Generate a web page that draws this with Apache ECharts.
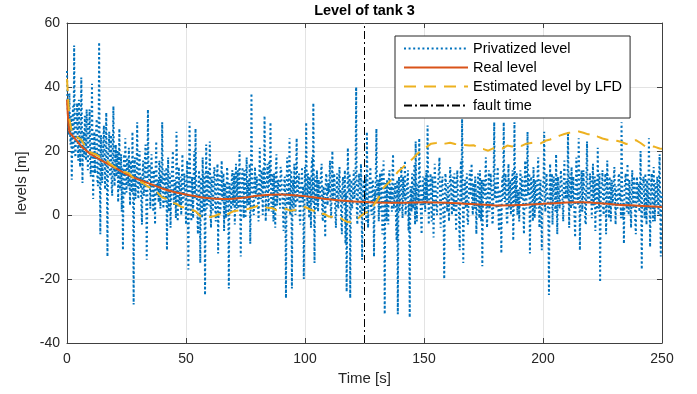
<!DOCTYPE html>
<html>
<head>
<meta charset="utf-8">
<script src="https://cdn.jsdelivr.net/npm/echarts@6.0.0/dist/echarts.min.js"></script>
<style>
  html, body { margin: 0; padding: 0; background: #fff; }
  #main { width: 697px; height: 394px; }
</style>
</head>
<body>
<div id="main"></div>
<script>
// privatized level, one sample every 0.25 s from t = 0 to 250 (one row = 5 s)
const privStep = 0.25;
const privatizedLevel = [
  45, 34, 30, 25, 38, 27, 22, 31, 11, 24, 34, 19, 53, 28, 18, 23, 29, 35, 24, 17,
  36, 27, 15, 22, 43, 30, 10, 25, 26, 18, 31, 21, 17, 33, 28, 14, 21, 27, 33, 16,
  12, 24, 41, 19, 5, 21, 26, 13, 19, 27, 30, 11, 9, 20, 54, 16, -6, 25, 22, 10,
  14, 23, 28, 17, 8, 21, 32, 12, -13, 19, 20, 26, 12, 15, 25, 9, 6, 22, 34, 14,
  9, 17, 22, 12, 15, 20, 4, 14, 27, 8, 13, 19, 1, 15, -11, 10, 19, 6, 24, 13,
  7, 18, 16, 9, 21, 12, 3, 17, 14, 7, 26, 11, -28, 16, 18, 5, 10, 14, 29, 8,
  5, 15, 20, 9, 12, 3, -3, 13, 17, 6, 8, 18, 22, 10, -14, 4, 33, 12, 11, 16,
  2, 8, 19, 13, 7, 1, 14, 9, -3, 15, 23, 6, 9, 11, 4, 17, 16, 2, 12, 10,
  29, 8, 2, 12, 14, 4, 6, 15, -11, 9, 18, 1, 9, 13, -4, 7, 12, 16, 20, 5,
  3, 11, 10, -1, 26, 14, -2, 8, 15, 3, 7, 12, 0, 9, 19, 4, 5, 13, 11, 6,
  -3, 10, 17, 2, -17, 8, 29, 13, 4, -2, 12, 7, -1, 15, 20, 5, 27, 11, 6, 1,
  -6, 9, 14, 4, -15, 12, 9, -1, 18, 7, 1, 13, -25, 6, 22, 2, 8, 14, 3, 9,
  23, 5, -4, 12, 11, 1, 6, 14, 15, 3, -2, 9, 9, 16, -12, 6, 13, 0, 2, 11,
  17, 4, 7, 13, -5, 8, 10, -1, 4, 15, 12, 2, -23, 10, 8, 5, 1, 12, 14, 3,
  6, 13, -3, 8, 16, 2, 9, 14, 2, 10, 20, 4, -13, 7, 11, 15, 5, -1, 14, 9,
  -1, 12, 18, 3, 8, 11, 3, 16, -9, 6, 38, 13, 10, 1, 0, 9, 15, 5, 7, 12,
  12, 4, -2, 10, 21, 6, 5, 14, 9, 0, 15, 8, 31, 12, -2, 7, 11, 16, 4, 1,
  17, 10, 29, 5, 1, 13, 8, -2, 13, 9, -4, 14, 19, 3, 7, 11, 10, 6, 2, 15,
  14, 8, 6, 1, -5, 11, 12, 5, -26, 9, 18, 13, 3, 7, 24, 0, 9, 14, -23, 6,
  11, 2, 16, 10, 0, 13, 24, 4, 7, 11, 13, -1, -3, 8, 10, 15, 4, 9, -20, 3,
  15, 6, 29, 10, 2, 13, 9, -1, 12, 7, -4, 15, 18, 4, 35, 9, -15, 12, 8, 2,
  14, 8, 1, 11, 11, 5, 5, 14, 16, 0, -2, 9, 9, 3, -7, 12, 13, 6, 3, 10,
  7, 12, 17, 3, -1, 9, 20, 5, 6, 13, 10, 0, -4, 8, 13, 4, 2, 11, 15, 6,
  8, -2, -6, 10, 12, 3, 4, 14, -9, 7, -24, 1, 21, 9, 7, 13, -26, 5, 11, 2,
  3, 9, 14, 5, 8, 12, 40, 2, -3, 7, 10, 13, 5, -1, 16, 8, -14, 4, 9, 11,
  1, 6, 12, -2, 26, 9, -4, 5, 7, 12, 15, 2, 0, 10, 11, 4, -13, 8, 4, 13,
  27, 5, 6, 11, -2, 8, 13, 1, 9, 14, -6, 6, 17, 3, -31, 10, 5, -2, 11, 7,
  -3, 12, 14, 4, 7, 9, 1, 13, 19, 2, 4, 8, 10, -3, -8, 11, -31, 6, 12, 1,
  6, 10, 15, 3, -1, 12, 9, 5, 17, 0, 3, 8, 11, 14, -5, 4, -32, 9, 8, 1,
  13, 7, 2, 11, 16, -3, 23, 6, -2, 10, 10, 4, 24, 13, 5, -1, -6, 8, 12, 3,
  7, 12, 1, 9, 14, 4, 28, 10, -3, 6, 9, 13, 4, -2, 12, 7, -7, 3, 16, 11,
  6, 1, 0, 9, 11, 14, 18, 5, -4, 8, 8, 12, 3, -3, -20, 6, 13, 10, 5, 1,
  10, 5, -2, 8, 15, 11, 6, 0, 12, 7, 1, 13, 9, 3, -5, 10, 14, 6, 4, -1,
  -11, 9, 17, 4, 30, 12, -15, 2, 8, 11, 2, 7, 13, -2, -3, 5, 10, 14, 6, 9,
  16, 4, 0, 10, 7, 2, 12, 8, -6, 5, 9, 13, 3, -1, 14, 7, -2, 11, -16, 3,
  11, 8, 5, 12, 18, 1, -4, 6, 8, 14, 1, 4, 13, 9, 6, -3, -1, 10, 29, 5,
  10, 6, 2, 12, 15, 1, -5, 8, 7, 3, -12, 10, 12, 5, 29, 9, 4, 13, 9, -1,
  -3, 7, 16, 2, 6, 11, 0, 5, 11, 14, -8, 3, 29, 9, 3, 12, 13, 0, 7, 8,
  -2, 6, 14, 9, 5, 12, 10, 1, -6, 7, 17, 4, 2, 11, 26, 6, 8, 13, -12, 3,
  12, 9, 4, -2, 15, 8, -1, 11, 9, 2, 6, 14, 18, 5, -4, 9, 11, 1, -11, 7,
  7, 11, 26, 4, 1, 9, 13, 6, 5, -2, -25, 8, 16, 3, 9, 13, -3, 6, 12, 10,
  4, 1, 19, 7, -6, 12, 10, 4, 2, 9, 14, 14, 8, 3, -2, 11, 17, 6, 5, 10,
  11, 5, 26, 9, -4, 13, 9, 2, 15, 8, 3, 12, 12, -1, -7, 6, 18, 10, 6, 3,
  24, 11, -11, 7, 10, 14, 1, 5, 14, 9, 7, -2, -3, 12, 23, 4, 9, 8, 4, 13,
  13, 7, -1, 10, 16, 3, 6, 12, -5, 8, 11, 1, 21, 6, 2, 13, -21, 5, 9, 10,
  14, 2, 0, 8, 8, 13, -6, 4, 17, 9, 4, -1, 12, 7, -2, 11, 10, 3, 6, 12,
  15, 6, -3, 9, 9, 2, 3, 12, 13, 5, 7, -1, 29, 10, -1, 4, -9, 8, 11, 13,
  5, 1, 16, 7, 0, 11, 8, 3, -4, 9, 14, 6, 2, 12, 10, -2, -6, 7, 12, 4,
  6, 10, 1, 7, 20, 3, -17, 9, 9, 12, 4, -1, 13, 6, -3, 11, 7, 2, 24, 8,
  -10, 5, 11, 13, 3, -2, 15, 6, -2, 10, 8, 3, 12, 9, 0, 12, 19, 4, -13, 7,
  5
];

const realTime = [0, 1, 2, 4, 6, 8, 10, 15, 20, 25, 30, 35, 40, 45, 50, 55, 60, 65, 70, 75,
  80, 85, 90, 95, 100, 105, 110, 115, 120, 125, 130, 140, 150, 160, 170, 180, 190, 200, 210, 215,
  220, 230, 240, 250];
const realLevel = [36, 26, 25, 23.3, 21.5, 20.2, 19, 16.8, 14.8, 12.8, 11.1, 9.7, 8.3, 7.2, 6.4, 5.7, 5.2, 5, 5.1, 5.5,
  6, 6.3, 6.4, 6.2, 5.9, 5.4, 4.9, 4.5, 4.2, 4.1, 3.9, 3.8, 4, 3.8, 3.4, 3, 3.1, 3.5, 3.9, 4,
  3.9, 3.3, 2.9, 2.5];

const estTime = [0, 1, 2, 4, 6, 8, 10, 12, 14, 16, 18, 20, 22, 24, 26, 28, 30, 32, 34, 36, 38, 40, 42,
  44, 46, 48, 50, 52, 54, 56, 58, 60, 62, 64, 66, 68, 70, 72, 74, 76, 78, 80, 82, 84, 86, 88, 90,
  92, 94, 96, 98, 100, 102, 104, 106, 108, 110, 112, 114, 116, 118, 120, 122, 124, 125, 127, 129,
  131, 133, 135, 137, 139, 141, 143, 145, 147, 149, 151, 153, 155, 157, 159, 161, 163, 165, 167,
  169, 171, 173, 175, 177, 179, 181, 183, 185, 187, 189, 191, 193, 195, 197, 199, 201, 203, 205,
  207, 209, 211, 213, 215, 217, 219, 221, 223, 225, 227, 229, 231, 233, 235, 237, 239, 241, 243,
  245, 247, 249, 250];
const estLevel = [42.5, 30, 26, 24.5, 23.5, 21, 19.5, 19, 18, 17.5, 16, 15, 14.2, 13.5, 13, 11.5, 10.5, 10, 8.8, 8.3, 7, 5.5, 5,
  3.8, 3.5, 2.5, 2.4, 1.6, 1.2, -0.3, -0.8, -0.6, -0.3, 0.3, -0.5, 0.4, 1.2, 1.4, 1.6, 1.9, 2.3, 2.8, 2.9, 2.3, 2.2, 1.5, 1.3,
  1.9, 1.3, 1.6, 2.2, 2.5, 1.8, 1.2, 0.2, 0.4, -0.5, -0.6, -0.4, -1.5, -2.2, -2.3, -1.2, 0, 0.5, 1.2, 3.2,
  5.5, 8.5, 10, 11.5, 13.5, 14.8, 16.2, 17.4, 19, 20.3, 21.2, 22.3, 22.5, 22.8, 22.3, 22.6, 22.2, 22, 21.9,
  21.7, 21.8, 20.8, 20.6, 20.1, 20.8, 21.2, 20.8, 21.7, 21.4, 21.8, 21.6, 22.3, 22.5, 22.7, 22.4, 23.2, 23.6, 24.2,
  24.8, 25.3, 25.7, 25.8, 26.1, 25.7, 25.2, 25.3, 24.5, 23.9, 23.5, 23.6, 23.2, 22.8, 22.2, 22.6, 23.4, 22.5, 21.4,
  21.6, 21.3, 20.8, 20.7];

const faultTime = 125;
const xMin = 0, xMax = 250, xStep = 50;
const yMin = -40, yMax = 60, yStep = 20;

const chart = echarts.init(document.getElementById('main'), null, { renderer: 'canvas' });

const fontFamily = '"Liberation Sans", Arial, Helvetica, sans-serif';
const axisColor = '#404040';
const textColor = '#262626';

const zip = (xs, ys) => xs.map((x, i) => [x, ys[i]]);

// box axes: labels on bottom/left, plain frame with inside ticks on top/right
const frameAxis = (position, min, max, interval) => ({
  type: 'value',
  min: min,
  max: max,
  interval: interval,
  position: position,
  axisLine: { show: true, onZero: false, lineStyle: { color: axisColor } },
  axisTick: { show: true, inside: true, length: 5, lineStyle: { color: axisColor } },
  axisLabel: { show: false },
  splitLine: { show: false },
});

const option = {
  animation: false,
  textStyle: { fontFamily: fontFamily },
  title: {
    text: 'Level of tank 3',
    left: 364.5,
    textAlign: 'center',
    top: 3,
    padding: 0,
    textStyle: { fontSize: 14.5, fontWeight: 'bold', color: '#000', fontFamily: fontFamily },
  },
  grid: {
    left: 67,
    right: 35,
    top: 23,
    bottom: 51,
    containLabel: false,
    outerBoundsMode: 'none',
  },
  legend: {
    orient: 'vertical',
    left: 395,
    top: 36,
    padding: [5, 8, 5, 8],
    itemWidth: 64,
    itemHeight: 14,
    itemGap: 4,
    backgroundColor: '#fff',
    borderColor: '#262626',
    borderWidth: 1,
    borderRadius: 0,
    itemStyle: { opacity: 0 },
    textStyle: { fontSize: 14.5, color: '#000', fontFamily: fontFamily },
    data: ['Privatized level', 'Real level', 'Estimated level by LFD', 'fault time'],
  },
  xAxis: [
    {
      type: 'value',
      min: xMin,
      max: xMax,
      interval: xStep,
      position: 'bottom',
      name: 'Time [s]',
      nameLocation: 'middle',
      nameGap: 28,
      nameTextStyle: { fontSize: 15, color: textColor },
      axisLine: { show: true, onZero: false, lineStyle: { color: axisColor } },
      axisTick: { show: true, inside: true, length: 5, lineStyle: { color: axisColor } },
      axisLabel: { fontSize: 14, color: textColor, margin: 9 },
      splitLine: { show: true, lineStyle: { color: '#e3e3e3' } },
    },
    frameAxis('top', xMin, xMax, xStep),
  ],
  yAxis: [
    {
      type: 'value',
      min: yMin,
      max: yMax,
      interval: yStep,
      position: 'left',
      name: 'levels [m]',
      nameLocation: 'middle',
      nameGap: 36,
      nameTextStyle: { fontSize: 15, color: textColor },
      axisLine: { show: true, onZero: false, lineStyle: { color: axisColor } },
      axisTick: { show: true, inside: true, length: 5, lineStyle: { color: axisColor } },
      axisLabel: { fontSize: 14, color: textColor, margin: 7 },
      splitLine: { show: true, lineStyle: { color: '#e3e3e3' } },
    },
    frameAxis('right', yMin, yMax, yStep),
  ],
  series: [
    {
      name: 'Privatized level',
      type: 'line',
      data: privatizedLevel.map((v, i) => [i * privStep, v]),
      symbol: 'none',
      showSymbol: false,
      sampling: null,
      itemStyle: { color: '#0072BD' },
      lineStyle: { color: '#0072BD', width: 2, type: [2, 2.6] },
      silent: true,
      z: 2,
    },
    {
      name: 'Real level',
      type: 'line',
      data: zip(realTime, realLevel),
      symbol: 'none',
      showSymbol: false,
      smooth: 0.3,
      itemStyle: { color: '#D95319' },
      lineStyle: { color: '#D95319', width: 2 },
      silent: true,
      z: 3,
    },
    {
      name: 'Estimated level by LFD',
      type: 'line',
      data: zip(estTime, estLevel),
      symbol: 'none',
      showSymbol: false,
      itemStyle: { color: '#EDB120' },
      lineStyle: { color: '#EDB120', width: 2, type: [12, 8] },
      silent: true,
      z: 4,
    },
    {
      name: 'fault time',
      type: 'line',
      data: [[faultTime, yMin], [faultTime, yMax]],
      symbol: 'none',
      showSymbol: false,
      itemStyle: { color: '#000' },
      lineStyle: { color: '#000', width: 1, type: [8, 3, 2, 3] },
      silent: true,
      z: 5,
    },
  ],
};

chart.setOption(option);
</script>
</body>
</html>
